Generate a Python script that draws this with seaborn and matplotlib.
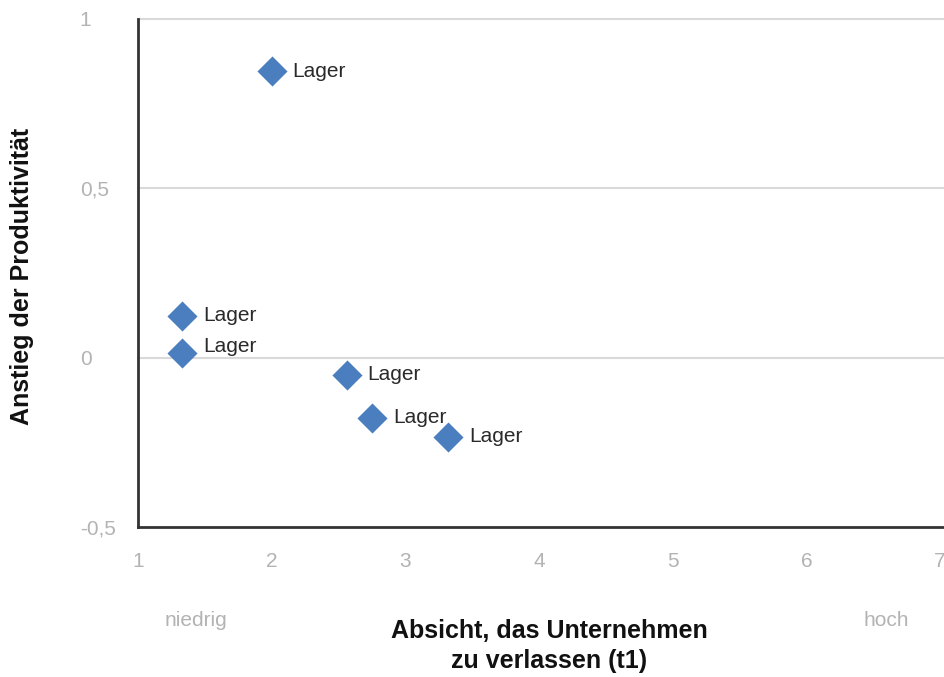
import matplotlib
matplotlib.use("Agg")
import matplotlib.pyplot as plt
import seaborn as sns
import pandas as pd

# data
absicht = [2.0, 1.33, 1.33, 2.56, 2.75, 3.32]
anstieg = [0.845, 0.124, 0.015, -0.05, -0.177, -0.234]
labels = ["Lager", "Lager", "Lager", "Lager", "Lager", "Lager"]
y_ticks = [-0.5, 0, 0.5, 1]
y_ticklabels = ["-0,5", "0", "0,5", "1"]
x_ticks = [1, 2, 3, 4, 5, 6, 7]

df = pd.DataFrame({"x": absicht, "y": anstieg, "label": labels})

sns.set_theme(style="white")
plt.rcParams["font.family"] = ["Liberation Sans", "DejaVu Sans"]

fig = plt.figure(figsize=(9.45, 6.77), dpi=100)
ax = fig.add_axes([138 / 945, 150 / 677, 1 - 138 / 945, 508 / 677])

sns.scatterplot(data=df, x="x", y="y", marker="D", s=235, color="#4a7ebe",
                linewidth=0, ax=ax, zorder=3)

# second label nudged up a bit so it clears its neighbour
nudge = [0, 0, 4.3, 0, 0, 0]
for (_, row), dy in zip(df.iterrows(), nudge):
    ax.annotate(row["label"], (row["x"], row["y"]), xytext=(15, dy),
                textcoords="offset points", ha="left", va="center",
                fontsize=15, color="#2a2a2a", zorder=4)

ax.set_xlim(1, 7.036)
ax.set_ylim(-0.5, 1)
ax.set_xticks(x_ticks)
ax.set_xticklabels([str(t) for t in x_ticks])
ax.set_yticks(y_ticks)
ax.set_yticklabels(y_ticklabels)

for y in [0, 0.5, 1]:
    ax.axhline(y, color="#d9d9d9", lw=1.5, zorder=1, clip_on=False)

ax.tick_params(axis="both", length=0, labelsize=15, labelcolor="#b3b3b3")
ax.tick_params(axis="x", pad=18)
ax.tick_params(axis="y", pad=42)
for t in ax.get_yticklabels():
    t.set_horizontalalignment("left")

for side in ["top", "right"]:
    ax.spines[side].set_visible(False)
for side in ["left", "bottom"]:
    ax.spines[side].set_color("#333333")
    ax.spines[side].set_linewidth(2)

ax.set_xlabel("")
ax.set_ylabel("")

fig.text(22 / 945, 1 - 276 / 677, "Anstieg der Produktivität", rotation=90,
         ha="center", va="center", fontsize=18, fontweight="bold", color="#111111")
fig.text(549 / 945, 1 - 646 / 677, "Absicht, das Unternehmen\nzu verlassen (t1)",
         ha="center", va="center", fontsize=18, fontweight="bold", color="#111111",
         linespacing=1.3)
fig.text(196 / 945, 1 - 621 / 677, "niedrig", ha="center", va="center",
         fontsize=15, color="#b3b3b3")
fig.text(886 / 945, 1 - 621 / 677, "hoch", ha="center", va="center",
         fontsize=15, color="#b3b3b3")

fig.savefig("out.png", dpi=100)
